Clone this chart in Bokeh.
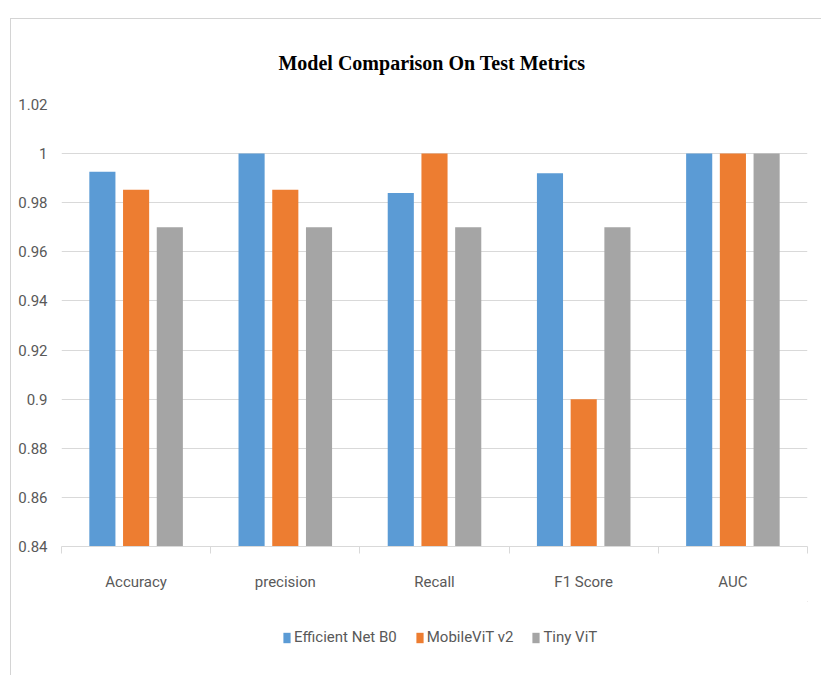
from bokeh.plotting import figure
from bokeh.layouts import column
from bokeh.models import ColumnDataSource, FixedTicker, Legend, LegendItem, Range1d
from bokeh.embed import file_html
from bokeh.resources import INLINE

# Test-set scores for each model
metrics = ["Accuracy", "precision", "Recall", "F1 Score", "AUC"]
efficientnet_b0 = [0.9926, 1.0, 0.984, 0.992, 1.0]
mobilevit_v2 = [0.9853, 0.9853, 1.0, 0.90, 1.0]
tiny_vit = [0.97, 0.97, 0.97, 0.97, 1.0]

series_names = ["Efficient Net B0", "MobileViT v2", "Tiny ViT"]
series_colors = ["#5B9BD5", "#ED7D31", "#A5A5A5"]

y_ticks = [0.84, 0.86, 0.88, 0.90, 0.92, 0.94, 0.96, 0.98, 1.00, 1.02]
y_tick_labels = ["0.84", "0.86", "0.88", "0.9", "0.92", "0.94", "0.96", "0.98", "1", "1.02"]

LABEL_FONT = "Roboto"
TEXT_GRAY = "#595959"
GRID_GRAY = "#d9d9d9"

p = figure(
    width=811, height=582,
    x_range=Range1d(0, len(metrics)), y_range=Range1d(0.84, 1.02),
    output_backend="svg", toolbar_location=None,
    min_border_left=50, min_border_right=15, min_border_top=85, min_border_bottom=55,
)
p.outline_line_color = None

p.title.text = "Model Comparison  On Test Metrics"
p.title.align = "center"
p.title.offset = -20
p.title.text_font = "Liberation Serif"
p.title.text_font_size = "20px"
p.title.text_font_style = "bold"
p.title.text_color = "#000000"
p.title.standoff = 61

centers = [i + 0.5 for i in range(len(metrics))]
offsets = [-0.226, 0.0, 0.226]
bar_w = 0.175
for vals, off, col in zip([efficientnet_b0, mobilevit_v2, tiny_vit], offsets, series_colors):
    src = ColumnDataSource(dict(x=[c + off for c in centers], top=vals))
    p.vbar(x="x", top="top", bottom=0.84, width=bar_w, source=src,
           fill_color=col, line_color=None)

# y axis: labels only
p.yaxis.ticker = FixedTicker(ticks=y_ticks)
p.yaxis.major_label_overrides = {t: s for t, s in zip(y_ticks, y_tick_labels)}
p.yaxis.axis_line_color = None
p.yaxis.major_tick_line_color = None
p.yaxis.minor_tick_line_color = None
p.yaxis.major_label_text_font = LABEL_FONT
p.yaxis.major_label_text_font_size = "15px"
p.yaxis.major_label_text_color = TEXT_GRAY
p.yaxis.major_label_standoff = 8

# x axis: category names at centres, tick marks between categories
p.xaxis.ticker = FixedTicker(ticks=centers, minor_ticks=list(range(len(metrics) + 1)))
p.xaxis.major_label_overrides = {c: m for c, m in zip(centers, metrics)}
p.xaxis.axis_line_color = GRID_GRAY
p.xaxis.major_tick_line_color = None
p.xaxis.minor_tick_line_color = GRID_GRAY
p.xaxis.minor_tick_out = 7
p.xaxis.minor_tick_in = 0
p.xaxis.major_label_text_font = LABEL_FONT
p.xaxis.major_label_text_font_size = "15px"
p.xaxis.major_label_text_color = TEXT_GRAY
p.xaxis.major_label_standoff = 19

p.xgrid.grid_line_color = None
p.ygrid.ticker = FixedTicker(ticks=y_ticks)
p.ygrid.grid_line_color = GRID_GRAY

# legend strip under the chart; its swatch glyphs sit outside the visible range
lg = figure(
    width=811, height=75, x_range=Range1d(0, 1), y_range=Range1d(0, 1),
    output_backend="svg", toolbar_location=None,
    min_border=0,
)
lg.axis.visible = False
lg.grid.visible = False
lg.outline_line_color = None
swatches = [lg.vbar(x=[5], top=[5], bottom=[4], width=0.1, fill_color=c, line_color=None)
            for c in series_colors]
legend = Legend(
    items=[LegendItem(label=n, renderers=[r]) for n, r in zip(series_names, swatches)],
    orientation="horizontal", location=(221, 30),
    border_line_color=None, background_fill_alpha=0,
    label_text_font=LABEL_FONT, label_text_font_size="15px", label_text_color=TEXT_GRAY,
    glyph_width=9, glyph_height=13, label_standoff=3, spacing=18,
    padding=0, margin=0,
)
lg.add_layout(legend, "center")

page = column(p, lg, spacing=0,
              styles={"border-left": "1px solid #d4d4d4", "border-top": "1px solid #d4d4d4",
                      "margin-left": "10px", "margin-top": "18px"})

open("out.html", "w").write(file_html(page, INLINE))
